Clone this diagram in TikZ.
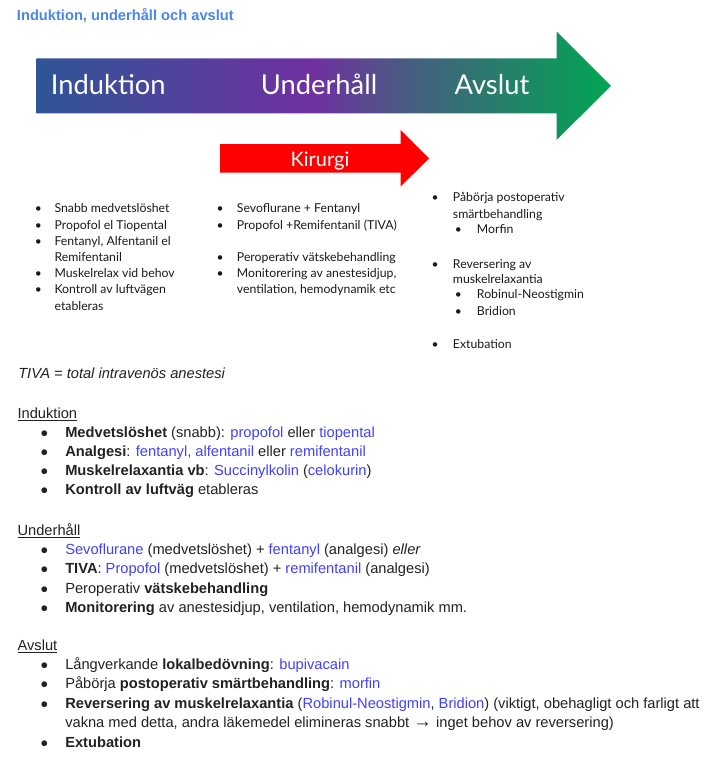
\documentclass[tikz,border=0pt]{standalone}
\usepackage{fontspec}
\setmainfont{Liberation Sans}
\newfontfamily\slidefont{Lato}

\definecolor{titelbla}{HTML}{4A86E8}
\definecolor{lakemedel}{HTML}{4040FF}
\definecolor{brodtext}{HTML}{222222}
\definecolor{slidetext}{HTML}{1A1A1A}
\definecolor{fasbla}{HTML}{2F5597}
\definecolor{faslila}{HTML}{7030A0}
\definecolor{fasgra}{HTML}{44607F}
\definecolor{fasgron}{HTML}{00A651}
\pgfdeclarehorizontalshading{fasskala}{100bp}{color(0bp)=(fasbla); color(25bp)=(fasbla); color(49bp)=(faslila); color(58bp)=(fasgra); color(75bp)=(fasgron); color(100bp)=(fasgron)}

\newcommand{\lm}[1]{\textcolor{lakemedel}{#1}}

\tikzset{
  doc/.style={anchor=base west, inner sep=0pt, text=brodtext, font=\fontsize{11}{13}\selectfont},
  punkt/.style={anchor=base, inner sep=0pt, text=brodtext, font=\fontsize{10}{13}\selectfont},
  slide/.style={anchor=base west, inner sep=0pt, text=slidetext, font=\slidefont\fontsize{9.2}{11}\selectfont},
  slidepunkt/.style={anchor=base, inner sep=0pt, text=slidetext, font=\slidefont\fontsize{9}{10}\selectfont},
  fas/.style={anchor=base, inner sep=0pt, text=white, font=\slidefont\fontsize{20.5}{24}\selectfont},
}

\begin{document}
\begin{tikzpicture}[x=0.75pt, y=-0.75pt]
    % Bakgrund
    \fill[white] (0,0) rectangle (719,761);

    % Rubrik
    \node[doc, text=titelbla, font=\bfseries\fontsize{11}{13}\selectfont] (titel) at (16.7,20.7) {Induktion, underhåll och avslut};

    % Stora pilen (faserna)
    \shade[shading=fasskala] (36.7,58.3) -- (556.7,58.3) -- (556.7,31.7) -- (611,85.8)
        -- (556.7,140) -- (556.7,113.3) -- (36.7,113.3) -- cycle;
    \node[fas] (induktion) at (108.3,94.3) {Induktion};
    \node[fas] (underhall) at (319,94.3) {Underhåll};
    \node[fas] (avslut) at (492,94.3) {Avslut};

    % Kirurgi-pilen
    \fill[red] (220,144) -- (400.7,144) -- (400.7,130) -- (429,158.3)
        -- (400.7,186.5) -- (400.7,172.7) -- (220,172.7) -- cycle;
    \node[fas, font=\slidefont\fontsize{15}{18}\selectfont] (kirurgi) at (320,166) {Kirurgi};

    % Punkter under induktion
    \node[slidepunkt] (sp1) at (38.3,212.8) {•};
    \node[slide] (s1) at (54.3,212.8) {Snabb medvetslöshet};
    \node[slidepunkt] (sp2) at (38.3,229.2) {•};
    \node[slide] (s2) at (54.3,229.2) {Propofol el Tiopental};
    \node[slidepunkt] (sp3) at (38.3,245.2) {•};
    \node[slide] (s3) at (54.3,245.2) {Fentanyl, Alfentanil el};
    \node[slide] (s3b) at (54.3,261.2) {Remifentanil};
    \node[slidepunkt] (sp4) at (38.3,277.8) {•};
    \node[slide] (s4) at (54.3,277.8) {Muskelrelax vid behov};
    \node[slidepunkt] (sp5) at (38.3,293.8) {•};
    \node[slide] (s5) at (54.3,293.8) {Kontroll av luftvägen};
    \node[slide] (s5b) at (54.3,310.2) {etableras};

    % Punkter under underhåll
    \node[slidepunkt] (up1) at (220,212.8) {•};
    \node[slide] (u1) at (236.7,212.8) {Sevoflurane + Fentanyl};
    \node[slidepunkt] (up2) at (220,229.2) {•};
    \node[slide] (u2) at (236.7,229.2) {Propofol +Remifentanil (TIVA)};
    \node[slidepunkt] (up3) at (220,261.2) {•};
    \node[slide] (u3) at (236.7,261.2) {Peroperativ vätskebehandling};
    \node[slidepunkt] (up4) at (220,277.8) {•};
    \node[slide] (u4) at (236.7,277.8) {Monitorering av anestesidjup,};
    \node[slide] (u4b) at (236.7,293.8) {ventilation, hemodynamik etc};

    % Punkter under avslut
    \node[slidepunkt] (ap1) at (435,201.8) {•};
    \node[slide] (a1) at (452.7,201.8) {Påbörja postoperativ};
    \node[slide] (a1b) at (452.7,218.5) {smärtbehandling};
    \node[slidepunkt] (ap1a) at (458.3,233.5) {•};
    \node[slide] (a1a) at (476.7,233.5) {Morfin};
    \node[slidepunkt] (ap2) at (435,268.5) {•};
    \node[slide] (a2) at (452.7,268.5) {Reversering av};
    \node[slide] (a2b) at (452.7,283.5) {muskelrelaxantia};
    \node[slidepunkt] (ap2a) at (458.3,298.5) {•};
    \node[slide] (a2a) at (476.7,298.5) {Robinul-Neostigmin};
    \node[slidepunkt] (ap2c) at (458.3,315.2) {•};
    \node[slide] (a2c) at (476.7,315.2) {Bridion};
    \node[slidepunkt] (ap3) at (435,348.5) {•};
    \node[slide] (a3) at (452.7,348.5) {Extubation};

    % Förklaring
    \node[doc] (tiva) at (18,378.5) {\itshape TIVA = total intravenös anestesi};

    % Induktion
    \node[doc] (indrubrik) at (17.3,418.3) {\underline{Induktion}};
    \node[punkt] (ip1) at (44.3,437.2) {●};
    \node[doc] (i1) at (65,437.2) {\textbf{Medvetslöshet} (snabb): \lm{propofol} eller \lm{tiopental}};
    \node[punkt] (ip2) at (44.3,456.2) {●};
    \node[doc] (i2) at (65,456.2) {\textbf{Analgesi}: \lm{fentanyl, alfentanil} eller \lm{remifentanil}};
    \node[punkt] (ip3) at (44.3,475.2) {●};
    \node[doc] (i3) at (65,475.2) {\textbf{Muskelrelaxantia vb}: \lm{Succinylkolin} (\lm{celokurin})};
    \node[punkt] (ip4) at (44.3,494.5) {●};
    \node[doc] (i4) at (65,494.5) {\textbf{Kontroll av luftväg} etableras};

    % Underhåll
    \node[doc] (undrubrik) at (17.3,535.7) {\underline{Underhåll}};
    \node[punkt] (np1) at (44.3,554.5) {●};
    \node[doc] (n1) at (65,554.5) {\lm{Sevoflurane} (medvetslöshet) + \lm{fentanyl} (analgesi) \textit{eller}};
    \node[punkt] (np2) at (44.3,573.8) {●};
    \node[doc] (n2) at (65,573.8) {\textbf{TIVA}: \lm{Propofol} (medvetslöshet) + \lm{remifentanil} (analgesi)};
    \node[punkt] (np3) at (44.3,593.2) {●};
    \node[doc] (n3) at (65,593.2) {Peroperativ \textbf{vätskebehandling}};
    \node[punkt] (np4) at (44.3,612.5) {●};
    \node[doc] (n4) at (65,612.5) {\textbf{Monitorering} av anestesidjup, ventilation, hemodynamik mm.};

    % Avslut
    \node[doc] (avsrubrik) at (17.3,650.7) {\underline{Avslut}};
    \node[punkt] (vp1) at (44.3,669.5) {●};
    \node[doc] (v1) at (65,669.5) {Långverkande \textbf{lokalbedövning}: \lm{bupivacain}};
    \node[punkt] (vp2) at (44.3,688.8) {●};
    \node[doc] (v2) at (65,688.8) {Påbörja \textbf{postoperativ smärtbehandling}: \lm{morfin}};
    \node[punkt] (vp3) at (44.3,708.5) {●};
    \node[doc] (v3) at (65,708.5) {\textbf{Reversering av muskelrelaxantia} (\lm{Robinul-Neostigmin}, \lm{Bridion}) (viktigt, obehagligt och farligt att};
    \node[doc] (v3b) at (65,727.8) {vakna med detta, andra läkemedel elimineras snabbt {\fontsize{14}{13}\selectfont →} inget behov av reversering)};
    \node[punkt] (vp4) at (44.3,747.8) {●};
    \node[doc] (v4) at (65,747.8) {\textbf{Extubation}};
\end{tikzpicture}
\end{document}
